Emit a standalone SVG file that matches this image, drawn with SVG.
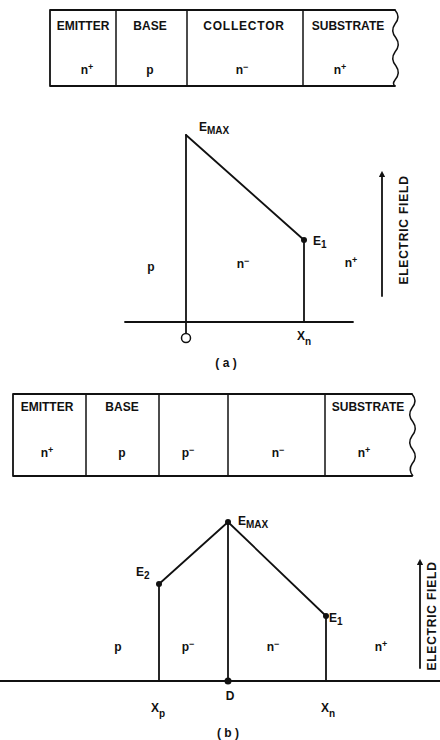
<svg xmlns="http://www.w3.org/2000/svg" width="440" height="740" viewBox="0 0 440 740">
<style>
.ln{stroke:#111;stroke-width:1.8;fill:none;stroke-linecap:round;stroke-linejoin:round}
.thin{stroke:#111;stroke-width:1.5;fill:none}
.t{font-family:"Liberation Sans",Arial,sans-serif;font-weight:bold;font-size:12px;fill:#111;text-anchor:middle}
.l{font-family:"Liberation Sans",Arial,sans-serif;font-weight:bold;font-size:12px;fill:#111}
.sup{font-size:9px}
.sub{font-size:10px}
.dot{fill:#111}
</style>
<defs>
<marker id="ah" viewBox="0 0 10 10" refX="5" refY="5" markerWidth="3.5" markerHeight="3.5" orient="auto">
<path d="M0,0 L10,5 L0,10 Z" fill="#111"/>
</marker>
</defs>
<rect width="440" height="740" fill="#fff"/>

<g id="table-a">
<path class="ln" d="M395,10 L50,10 L50,86 L395,86"/>
<path class="thin" d="M395,10 Q401,17 395,24 Q390,31 396,38 Q401,45 395,52 Q390,59 396,66 Q401,73 395,80 Q392,84 395,86"/>
<line class="thin" x1="116" y1="10" x2="116" y2="86"/>
<line class="thin" x1="187" y1="10" x2="187" y2="86"/>
<line class="thin" x1="303" y1="10" x2="303" y2="86"/>
<text class="t" x="83" y="30">EMITTER</text>
<text class="t" x="150" y="30">BASE</text>
<text class="t" x="244" y="30" letter-spacing="0.8">COLLECTOR</text>
<text class="t" x="348" y="30">SUBSTRATE</text>
<text class="t" x="87" y="74">n<tspan class="sup" dy="-4">+</tspan></text>
<text class="t" x="150" y="74">p</text>
<text class="t" x="242" y="74">n<tspan class="sup" dy="-4">−</tspan></text>
<text class="t" x="340" y="74">n<tspan class="sup" dy="-4">+</tspan></text>
</g>

<g id="plot-a">
<line class="ln" x1="125" y1="322" x2="353" y2="322"/>
<line class="ln" x1="186" y1="135" x2="186" y2="334"/>
<line class="ln" x1="186" y1="135" x2="304" y2="240"/>
<line class="ln" x1="304" y1="240" x2="304" y2="322"/>
<circle class="dot" cx="304" cy="240" r="3"/>
<circle cx="186" cy="338" r="4.5" fill="#fff" stroke="#111" stroke-width="1.5"/>
<text class="l" x="199" y="131">E<tspan class="sub" dy="3">MAX</tspan></text>
<text class="l" x="313" y="245">E<tspan class="sub" dy="3">1</tspan></text>
<text class="t" x="151" y="271">p</text>
<text class="t" x="243" y="268">n<tspan class="sup" dy="-4">−</tspan></text>
<text class="t" x="351" y="267">n<tspan class="sup" dy="-4">+</tspan></text>
<text class="l" x="297" y="340">X<tspan class="sub" dy="5">n</tspan></text>
<text class="t" x="226" y="367" font-size="11">( a )</text>
<line class="ln" x1="382" y1="296" x2="382" y2="174" marker-end="url(#ah)"/>
<text class="t" transform="translate(408,230) rotate(-90)" letter-spacing="0.8">ELECTRIC FIELD</text>
</g>

<g id="table-b">
<path class="ln" d="M412,394 L13,394 L13,476 L412,476"/>
<path class="thin" d="M412,394 Q418,401 412,408 Q407,415 413,422 Q418,429 412,436 Q407,443 413,450 Q418,457 412,464 Q408,470 413,476"/>
<line class="thin" x1="86" y1="394" x2="86" y2="476"/>
<line class="thin" x1="159" y1="394" x2="159" y2="476"/>
<line class="thin" x1="228" y1="394" x2="228" y2="476"/>
<line class="thin" x1="325" y1="394" x2="325" y2="476"/>
<text class="t" x="47" y="411">EMITTER</text>
<text class="t" x="122" y="411">BASE</text>
<text class="t" x="368" y="411">SUBSTRATE</text>
<text class="t" x="47" y="457">n<tspan class="sup" dy="-4">+</tspan></text>
<text class="t" x="122" y="457">p</text>
<text class="t" x="188" y="457">p<tspan class="sup" dy="-4">−</tspan></text>
<text class="t" x="278" y="457">n<tspan class="sup" dy="-4">−</tspan></text>
<text class="t" x="364" y="457">n<tspan class="sup" dy="-4">+</tspan></text>
</g>

<g id="plot-b">
<line class="ln" x1="0" y1="681" x2="440" y2="681"/>
<polyline class="ln" points="159,584 228,522 326,616"/>
<line class="ln" x1="159" y1="584" x2="159" y2="681"/>
<line class="ln" x1="228" y1="522" x2="228" y2="681"/>
<line class="ln" x1="326" y1="616" x2="326" y2="681"/>
<circle class="dot" cx="159" cy="584" r="3"/>
<circle class="dot" cx="228" cy="522" r="3"/>
<circle class="dot" cx="326" cy="616" r="3"/>
<circle class="dot" cx="228" cy="681" r="3.5"/>
<text class="l" x="238" y="525">E<tspan class="sub" dy="3">MAX</tspan></text>
<text class="l" x="136" y="576">E<tspan class="sub" dy="3">2</tspan></text>
<text class="l" x="329" y="622">E<tspan class="sub" dy="3">1</tspan></text>
<text class="t" x="118" y="651">p</text>
<text class="t" x="188" y="651">p<tspan class="sup" dy="-4">−</tspan></text>
<text class="t" x="273" y="651">n<tspan class="sup" dy="-4">−</tspan></text>
<text class="t" x="381" y="651">n<tspan class="sup" dy="-4">+</tspan></text>
<text class="t" x="230" y="700">D</text>
<text class="l" x="151" y="712">X<tspan class="sub" dy="5">p</tspan></text>
<text class="l" x="321" y="712">X<tspan class="sub" dy="5">n</tspan></text>
<text class="t" x="228" y="737" font-size="11">( b )</text>
<line class="ln" x1="420" y1="668" x2="420" y2="562" marker-end="url(#ah)"/>
<text class="t" transform="translate(436,616) rotate(-90)" letter-spacing="0.8">ELECTRIC FIELD</text>
</g>
</svg>
